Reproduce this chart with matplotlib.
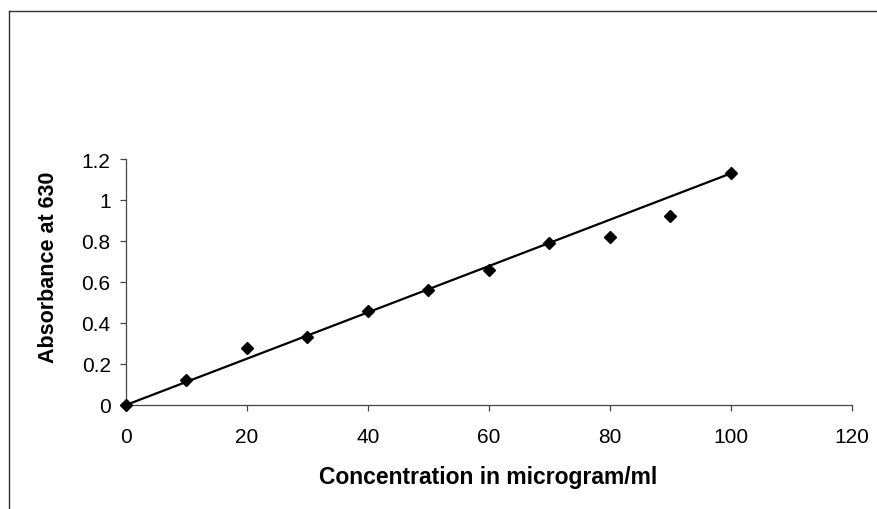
import matplotlib
matplotlib.use("Agg")
import matplotlib.pyplot as plt
from matplotlib.lines import Line2D

plt.rcParams['font.family'] = ['Liberation Sans', 'DejaVu Sans']

concentration = [0, 10, 20, 30, 40, 50, 60, 70, 80, 90, 100]
absorbance = [0.0, 0.12, 0.28, 0.33, 0.46, 0.56, 0.66, 0.79, 0.82, 0.92, 1.13]
trend_x = [0, 100]
trend_y = [0.0, 1.13]
x_ticks = [0, 20, 40, 60, 80, 100, 120]
y_ticks = [0, 0.2, 0.4, 0.6, 0.8, 1.0, 1.2]
y_tick_labels = ['0', '0.2', '0.4', '0.6', '0.8', '1', '1.2']

W, H = 878, 510
fig = plt.figure(figsize=(W / 100, H / 100), dpi=100)
ax = fig.add_axes([126 / W, (H - 406) / H, (852 - 126) / W, (406 - 160) / H])

ax.plot(trend_x, trend_y, color='black', lw=1.6, zorder=2)
ax.plot(concentration, absorbance, linestyle='none', marker='D', markersize=6,
        color='black', zorder=3, clip_on=False)

ax.set_xlim(0, 120)
ax.set_ylim(0, 1.2)
ax.set_xticks(x_ticks)
ax.set_yticks(y_ticks)
ax.set_yticklabels(y_tick_labels)
for s in ['top', 'right']:
    ax.spines[s].set_visible(False)
for s in ['left', 'bottom']:
    ax.spines[s].set_color('#444444')
    ax.spines[s].set_linewidth(0.9)
ax.tick_params(axis='x', direction='out', length=4.5, width=0.9, color='#444444',
               labelsize=15, pad=11.5)
ax.tick_params(axis='y', direction='out', length=4.5, width=0.9, color='#444444',
               labelsize=15, pad=6.5)

fig.text(488 / W, 1 - 478 / H, 'Concentration in microgram/ml', ha='center', va='center',
         fontsize=16.5, fontweight='bold')
fig.text(49 / W, 1 - 267 / H, 'Absorbance at 630', ha='center', va='center',
         rotation=90, fontsize=15.5, fontweight='bold')

# outer border (top and left)
fig.add_artist(Line2D([9 / W, 1.0], [1 - 12 / H, 1 - 12 / H], transform=fig.transFigure,
                      color='#333333', lw=1.0))
fig.add_artist(Line2D([9 / W, 9 / W], [1 - 12 / H, 0.0], transform=fig.transFigure,
                      color='#333333', lw=1.0))

fig.savefig('out.png', dpi=100)
